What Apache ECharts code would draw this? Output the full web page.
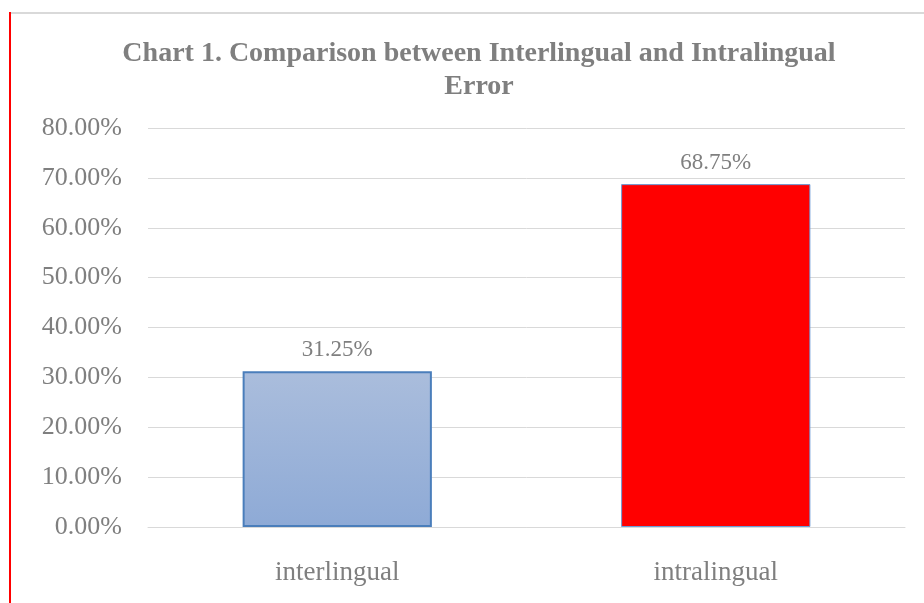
<!DOCTYPE html>
<html>
<head>
<meta charset="utf-8">
<script src="https://cdn.jsdelivr.net/npm/echarts@6/dist/echarts.min.js"></script>
<style>
  html, body { margin: 0; padding: 0; background: #fff; }
  #chart { width: 924px; height: 603px; }
</style>
</head>
<body>
<div id="chart"></div>
<script>
// data
var categories = ['interlingual', 'intralingual'];
var values = [31.25, 68.75];
var titleText = 'Chart 1. Comparison between Interlingual and Intralingual\nError';

var serif = '"Liberation Serif", "DejaVu Serif", serif';
var grey = '#7f7f7f';

var chart = echarts.init(document.getElementById('chart'));

var barStyles = [
  {
    color: new echarts.graphic.LinearGradient(0, 0, 0, 1, [
      { offset: 0, color: '#aabddc' },
      { offset: 1, color: '#8eaad6' }
    ]),
    borderColor: '#4a7ebb',
    borderWidth: 2
  },
  {
    color: '#ff0000',
    borderColor: '#6b9bd6',
    borderWidth: 1
  }
];

var option = {
  backgroundColor: '#ffffff',
  animation: false,
  title: {
    text: titleText,
    left: 474,
    top: 32,
    textAlign: 'center',
    textStyle: {
      fontFamily: serif,
      fontWeight: 'bold',
      fontSize: 28,
      color: grey,
      lineHeight: 33
    }
  },
  grid: { left: 148, right: 19, top: 128, bottom: 76 },
  xAxis: {
    type: 'category',
    data: categories,
    axisLine: { lineStyle: { color: '#d9d9d9', width: 1 } },
    axisTick: { show: false },
    axisLabel: { fontFamily: serif, fontSize: 27, color: grey, margin: 32 }
  },
  yAxis: {
    type: 'value',
    min: 0,
    max: 80,
    interval: 10,
    axisLine: { show: false },
    axisTick: { show: false },
    splitLine: { lineStyle: { color: '#d9d9d9', width: 1 } },
    axisLabel: {
      fontFamily: serif, fontSize: 26, color: grey, margin: 26,
      formatter: function (v) { return v.toFixed(2) + '%'; }
    }
  },
  series: [{
    type: 'bar',
    barWidth: '50%',
    data: values.map(function (v, i) {
      return { value: v, itemStyle: barStyles[i] };
    }),
    label: {
      show: true,
      position: 'top',
      distance: 10,
      fontFamily: serif,
      fontSize: 23,
      color: grey,
      formatter: function (p) { return p.value.toFixed(2) + '%'; }
    }
  }],
  graphic: [
    { type: 'rect', shape: { x: 11, y: 12, width: 913, height: 2 }, style: { fill: '#d9d9d9' }, silent: true },
    { type: 'rect', shape: { x: 9, y: 12, width: 2, height: 591 }, style: { fill: '#ff0000' }, silent: true }
  ]
};

chart.setOption(option);
</script>
</body>
</html>
